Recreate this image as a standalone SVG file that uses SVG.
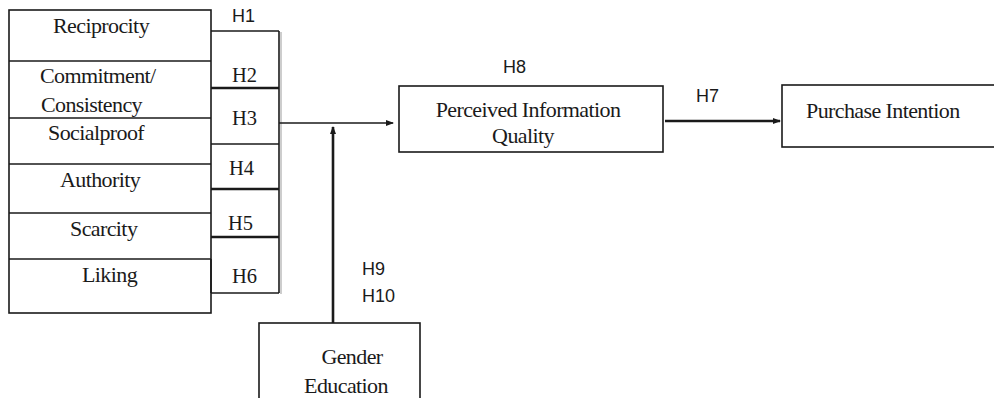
<svg xmlns="http://www.w3.org/2000/svg" width="994" height="398" viewBox="0 0 994 398">
<defs>
<marker id="arr" viewBox="0 0 8 8" refX="7" refY="4" markerWidth="8" markerHeight="8" markerUnits="userSpaceOnUse" orient="auto">
<path d="M0,1 L8,4 L0,7 Z" fill="#1a1a1a"/>
</marker>
</defs>
<style>
.box{fill:#fff;stroke:#1a1a1a;stroke-width:1.6}
.ln{stroke:#1a1a1a;stroke-width:1.6;fill:none}
.thk{stroke:#1a1a1a;stroke-width:2.6;fill:none}
.sr{font-family:"Liberation Serif","Times New Roman",serif;font-size:22px;fill:#1a1a1a;letter-spacing:-0.6px}
.hs{font-family:"Liberation Serif","Times New Roman",serif;font-size:20.5px;fill:#1a1a1a}
.sn{font-family:"Liberation Sans",Arial,sans-serif;font-size:18px;fill:#1a1a1a}
</style>
<rect width="994" height="398" fill="#fff"/>

<g id="constructs">
<rect class="box" x="9" y="10" width="202" height="303"/>
<line class="ln" x1="9" y1="61" x2="211" y2="61"/>
<line class="ln" x1="9" y1="118" x2="211" y2="118"/>
<line class="ln" x1="9" y1="164" x2="211" y2="164"/>
<line class="ln" x1="9" y1="213" x2="211" y2="213"/>
<line class="ln" x1="9" y1="259" x2="211" y2="259"/>
<text class="sr" x="53" y="33">Reciprocity</text>
<text class="sr" x="40" y="83">Commitment/</text>
<text class="sr" x="41" y="112">Consistency</text>
<text class="sr" x="48" y="140">Socialproof</text>
<text class="sr" x="60" y="187">Authority</text>
<text class="sr" x="70" y="236">Scarcity</text>
<text class="sr" x="82" y="282">Liking</text>
</g>

<g id="hypotheses">
<line x1="281" y1="32" x2="281" y2="294" stroke="#bdbdbd" stroke-width="1.5"/>
<line class="ln" x1="211" y1="31" x2="279" y2="31"/>
<line class="ln" x1="279" y1="31" x2="279" y2="293"/>
<line class="thk" x1="211" y1="88" x2="279" y2="88"/>
<line class="ln" x1="211" y1="144" x2="279" y2="144"/>
<line class="thk" x1="211" y1="189" x2="279" y2="189"/>
<line class="thk" x1="211" y1="237" x2="279" y2="237"/>
<line class="ln" x1="211" y1="293" x2="279" y2="293"/>
<line class="ln" x1="211" y1="259" x2="211" y2="293"/>
<text class="sn" x="232" y="22">H1</text>
<text class="hs" x="232" y="82">H2</text>
<text class="hs" x="232" y="125">H3</text>
<text class="hs" x="229" y="175">H4</text>
<text class="hs" x="228" y="230">H5</text>
<text class="hs" x="232" y="283">H6</text>
</g>

<g id="piq">
<rect class="box" x="399" y="86" width="264" height="66"/>
<text class="sr" x="528" y="117" text-anchor="middle" letter-spacing="-0.15">Perceived Information</text>
<text class="sr" x="523" y="143" text-anchor="middle" letter-spacing="-0.15">Quality</text>
</g>

<g id="pi">
<rect class="box" x="782" y="85" width="230" height="62"/>
<text class="sr" x="806" y="118" font-size="21.2" letter-spacing="0">Purchase Intention</text>
</g>

<g id="moderator">
<rect class="box" x="259" y="323" width="161" height="90"/>
<text class="sr" x="352" y="364" text-anchor="middle" letter-spacing="-0.2">Gender</text>
<text class="sr" x="346" y="393" text-anchor="middle" letter-spacing="-0.2">Education</text>
</g>

<g id="connectors">
<line class="ln" x1="279" y1="123" x2="393" y2="123" stroke-width="2" marker-end="url(#arr)"/>
<line class="thk" x1="665" y1="121" x2="780" y2="121" stroke-width="2.4" marker-end="url(#arr)"/>
<line class="thk" x1="333" y1="323" x2="333" y2="127" stroke-width="2.8" marker-end="url(#arr)"/>
</g>

<g id="labels">
<text class="sn" x="503" y="73">H8</text>
<text class="sn" x="696" y="102">H7</text>
<text class="sn" x="362" y="275">H9</text>
<text class="sn" x="362" y="302">H10</text>
</g>
</svg>
